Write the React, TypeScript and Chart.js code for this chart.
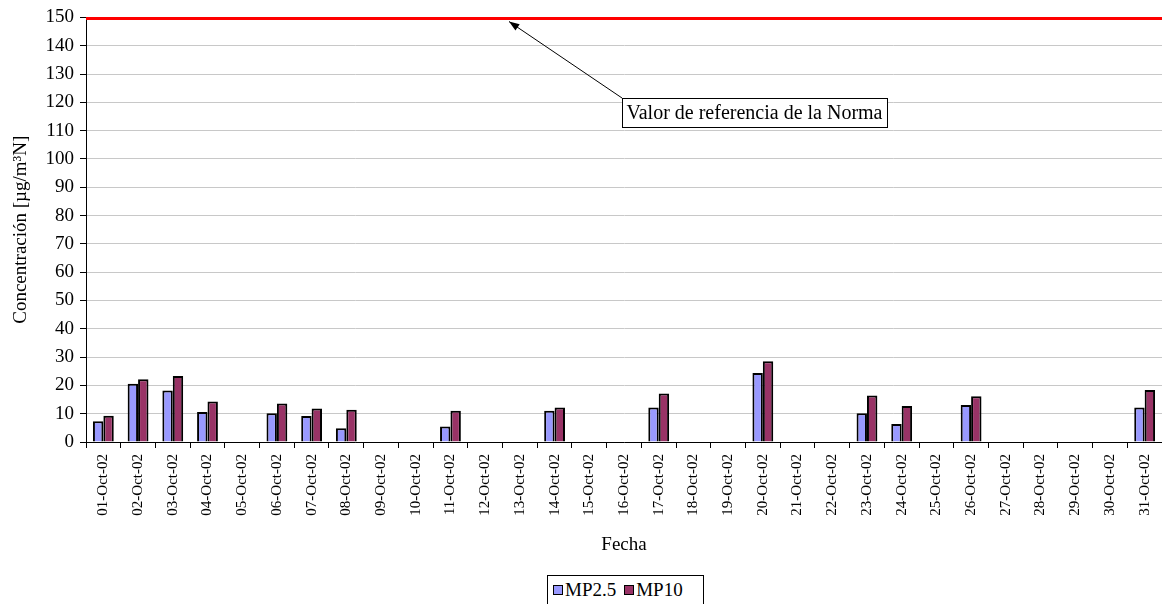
import React, { useEffect, useRef } from "react";
import { Chart, registerables } from "chart.js";

Chart.register(...registerables);

const categories = [
  "01-Oct-02","02-Oct-02","03-Oct-02","04-Oct-02","05-Oct-02","06-Oct-02","07-Oct-02","08-Oct-02",
  "09-Oct-02","10-Oct-02","11-Oct-02","12-Oct-02","13-Oct-02","14-Oct-02","15-Oct-02","16-Oct-02",
  "17-Oct-02","18-Oct-02","19-Oct-02","20-Oct-02","21-Oct-02","22-Oct-02","23-Oct-02","24-Oct-02",
  "25-Oct-02","26-Oct-02","27-Oct-02","28-Oct-02","29-Oct-02","30-Oct-02","31-Oct-02",
];

const mp25: (number | null)[] = [
  7.3, 20.6, 18.2, 10.6, null, 10.2, 9.2, 4.9, null, null, 5.5, null, null, 11.0, null, null,
  12.2, null, null, 24.4, null, null, 10.2, 6.4, null, 13.1, null, null, null, null, 12.2,
];

const mp10: (number | null)[] = [
  9.3, 22.2, 23.3, 14.3, null, 13.6, 11.8, 11.4, null, null, 11.0, null, null, 12.2, null, null,
  17.1, null, null, 28.5, null, null, 16.4, 12.7, null, 16.2, null, null, null, null, 18.4,
];

const normValue = 149.6;
const annotationText = "Valor de referencia de la Norma";
const yTitle = "Concentración [µg/m³N]";
const xTitle = "Fecha";
const seriesNames = ["MP2.5", "MP10"];
const seriesColors = ["#9999FF", "#993366"];

const normPlugin = {
  id: "normPlugin",
  afterDatasetsDraw(chart: any) {
    const { ctx, chartArea, scales } = chart;
    const y = scales.y.getPixelForValue(normValue);
    ctx.save();
    ctx.strokeStyle = "#FF0000";
    ctx.lineWidth = 3;
    ctx.beginPath();
    ctx.moveTo(chartArea.left, y);
    ctx.lineTo(chartArea.right, y);
    ctx.stroke();

    // annotation box
    const bx = chartArea.left + 536;
    const by = 98;
    const bw = 265;
    const bh = 29;
    ctx.fillStyle = "#fff";
    ctx.fillRect(bx, by, bw, bh);
    ctx.strokeStyle = "#000";
    ctx.lineWidth = 1;
    ctx.strokeRect(bx + 0.5, by + 0.5, bw, bh);
    ctx.fillStyle = "#000";
    ctx.font = "20px 'Liberation Serif'";
    ctx.textAlign = "center";
    ctx.textBaseline = "middle";
    ctx.fillText(annotationText, bx + bw / 2, by + bh / 2 + 1);

    // arrow
    const tx = chartArea.left + 423;
    const ty = y + 3;
    ctx.beginPath();
    ctx.moveTo(bx, by);
    ctx.lineTo(tx, ty);
    ctx.stroke();
    const ang = Math.atan2(ty - by, tx - bx);
    const len = 11;
    ctx.beginPath();
    ctx.moveTo(tx, ty);
    ctx.lineTo(tx - len * Math.cos(ang - 0.35), ty - len * Math.sin(ang - 0.35));
    ctx.lineTo(tx - len * Math.cos(ang + 0.35), ty - len * Math.sin(ang + 0.35));
    ctx.closePath();
    ctx.fill();
    ctx.restore();
  },
};

export default function App() {
  const ref = useRef<HTMLCanvasElement>(null);
  useEffect(() => {
    document.body.style.margin = "0";
    const chart = new Chart(ref.current!, {
      type: "bar",
      data: {
        labels: categories,
        datasets: [
          {
            label: seriesNames[0],
            data: mp25,
            backgroundColor: seriesColors[0],
            borderColor: "#000",
            borderWidth: 2,
            categoryPercentage: 0.6,
            barPercentage: 1.0,
          },
          {
            label: seriesNames[1],
            data: mp10,
            backgroundColor: seriesColors[1],
            borderColor: "#000",
            borderWidth: 2,
            categoryPercentage: 0.6,
            barPercentage: 1.0,
          },
        ],
      },
      options: {
        animation: false,
        responsive: false,
        layout: { padding: { top: 8, right: 0, bottom: 0, left: 0 } },
        plugins: {
          legend: { display: false },
          tooltip: { enabled: false },
        },
        scales: {
          x: {
            grid: {
              display: true,
              drawOnChartArea: false,
              offset: true,
              tickLength: 6,
              tickColor: "#000",
            },
            border: { color: "#000", width: 1 },
            ticks: {
              minRotation: 90,
              maxRotation: 90,
              autoSkip: false,
              color: "#000",
              padding: 6,
              font: { family: "'Liberation Serif'", size: 15 },
            },
            title: {
              display: true,
              text: xTitle,
              color: "#000",
              font: { family: "'Liberation Serif'", size: 19 },
              padding: { top: 0, bottom: 4 },
            },
            afterFit(scale: any) {
              scale.height = 118;
              scale.paddingRight = 0;
              scale.paddingLeft = 0;
            },
          },
          y: {
            min: 0,
            max: 150,
            ticks: {
              stepSize: 10,
              color: "#000",
              padding: 6,
              font: { family: "'Liberation Serif'", size: 19 },
            },
            grid: {
              color: "#c8c8c8",
              tickColor: "#000",
              tickLength: 6,
            },
            border: { color: "#000", width: 1 },
            title: {
              display: true,
              text: yTitle,
              color: "#000",
              font: { family: "'Liberation Serif'", size: 19 },
              padding: { top: 10, bottom: 0 },
            },
            afterFit(scale: any) {
              scale.width = 86;
            },
          },
        },
      },
      plugins: [normPlugin],
    });
    return () => chart.destroy();
  }, []);

  return (
    <div style={{ position: "relative", width: 1162, height: 604, background: "#fff", overflow: "hidden" }}>
      <canvas ref={ref} width={1162} height={560} style={{ display: "block" }} />
      <div
        style={{
          position: "absolute",
          left: 547,
          top: 575,
          width: 157,
          height: 31,
          border: "1px solid #000",
          boxSizing: "border-box",
          display: "flex",
          alignItems: "center",
          paddingLeft: 5,
          paddingBottom: 2,
          fontFamily: "'Liberation Serif'",
          fontSize: 19,
          color: "#000",
          lineHeight: 1,
        }}
      >
        {seriesNames.map((n, i) => (
          <span key={n} style={{ display: "flex", alignItems: "center", marginRight: i === 0 ? 8 : 0 }}>
            <span
              style={{
                display: "inline-block",
                width: 8,
                height: 8,
                background: seriesColors[i],
                border: "1.5px solid #000",
                marginRight: 2,
              }}
            />
            {n}
          </span>
        ))}
      </div>
    </div>
  );
}
